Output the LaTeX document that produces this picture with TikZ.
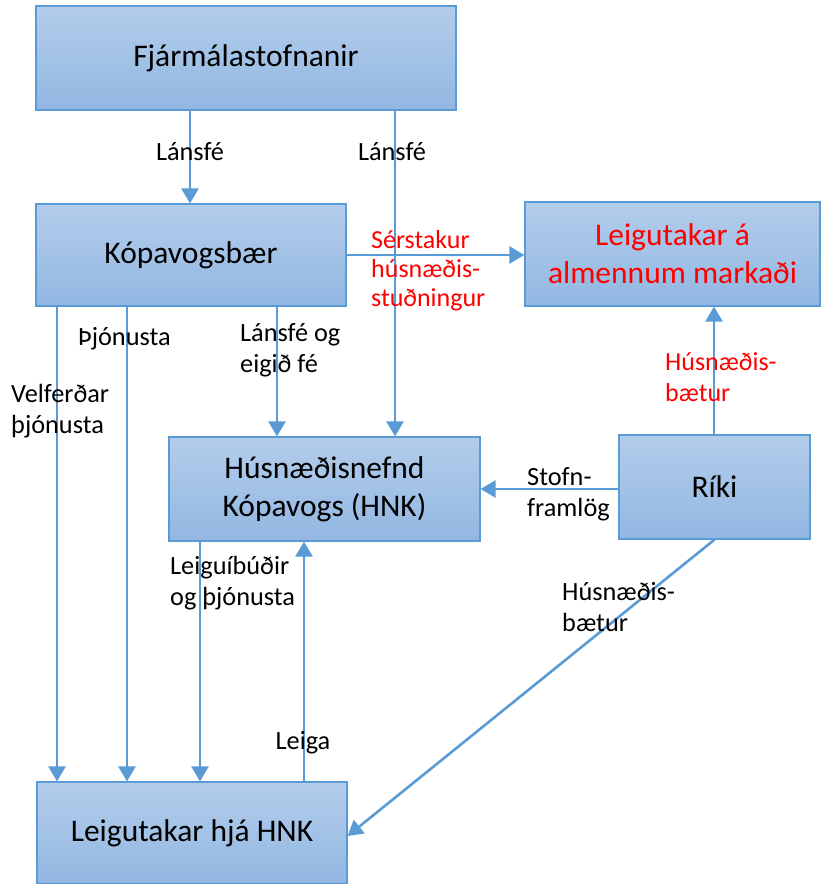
\documentclass[tikz,border=0pt]{standalone}
\usepackage{fontspec}
\setmainfont{Carlito}
\usetikzlibrary{arrows.meta}
\definecolor{boxline}{RGB}{91,155,213}
\definecolor{boxtop}{RGB}{179,205,235}
\definecolor{boxbot}{RGB}{146,183,226}
\definecolor{arrowc}{RGB}{91,155,213}
\definecolor{redtxt}{RGB}{255,0,0}
\begin{document}
\begin{tikzpicture}[x=1pt,y=-1pt,
  box/.style n args={2}{draw=boxline, line width=1.2pt, top color=boxtop, bottom color=boxbot,
    minimum width=#1, minimum height=#2, inner sep=0pt, align=center,
    font=\fontsize{31.5}{38}\selectfont},
  arr/.style={draw=arrowc, line width=2.6pt, -{Triangle[width=17pt,length=15pt]}},
  lbl/.style={anchor=base west, inner sep=0pt, align=left, font=\fontsize{26.3}{31}\selectfont},
  redlbl/.style={lbl, text=redtxt, font=\fontsize{26}{29}\selectfont}]
\useasboundingbox (0,0) rectangle (825,884);
% boxes
\node[box={420pt}{104pt}] (fin) at (246,58) {Fjármálastofnanir};
\node[box={310pt}{102pt}] (kop) at (191,255) {Kópavogsbær};
\node[box={295pt}{104pt}, text=redtxt] (alm) at (672.5,254) {Leigutakar á\\almennum markaði};
\node[box={311pt}{104pt}] (hnk) at (324.5,489) {Húsnæðisnefnd\\Kópavogs (HNK)};
\node[box={191pt}{104pt}] (riki) at (714.5,487) {Ríki};
\node[box={310pt}{102pt}] (lhh) at (192,833) {Leigutakar hjá HNK};
% connectors
\draw[arr] ([xshift=-56pt]fin.south) -- ([xshift=-1pt]kop.north);
\draw[arr] ([xshift=149pt]fin.south) -- ([xshift=70.5pt]hnk.north);
\draw[arr] (kop.east) -- (alm.west |- kop.east);
\draw[arr] ([xshift=86pt]kop.south) -- ([xshift=-47.5pt]hnk.north);
\draw[arr] ([xshift=-134pt]kop.south) -- ([xshift=-135pt]lhh.north);
\draw[arr] ([xshift=-64pt]kop.south) -- ([xshift=-65pt]lhh.north);
\draw[arr] ([xshift=-124.5pt]hnk.south) -- ([xshift=8pt]lhh.north);
\draw[arr] ([xshift=112pt]lhh.north) -- ([xshift=-20.5pt]hnk.south);
\draw[arr] (riki.west |- hnk.east) -- (hnk.east);
\draw[arr] ([xshift=-0.5pt]riki.north) -- ([xshift=41.5pt]alm.south);
\draw[arr] (riki.south) -- ([yshift=-3pt]lhh.east);
% labels
\node[lbl, anchor=base] (l1) at (190,160) {Lánsfé};
\node[lbl, anchor=base] (l2) at (392,160) {Lánsfé};
\node[redlbl] (l3) at (371,306) {Sérstakur\\húsnæðis-\\stuðningur};
\node[lbl] (l4) at (240,372) {Lánsfé og\\eigið fé};
\node[lbl] (l5) at (11,433) {Velferðar\\þjónusta};
\node[lbl] (l6) at (78,345) {Þjónusta};
\node[lbl] (l7) at (170,605) {Leiguíbúðir\\og þjónusta};
\node[lbl, anchor=base] (l8) at (303,749) {Leiga};
\node[lbl] (l9) at (527,516) {Stofn-\\framlög};
\node[redlbl, font=\fontsize{26}{31}\selectfont] (l10) at (665,401) {Húsnæðis-\\bætur};
\node[lbl] (l11) at (562,631) {Húsnæðis-\\bætur};
\end{tikzpicture}
\end{document}
